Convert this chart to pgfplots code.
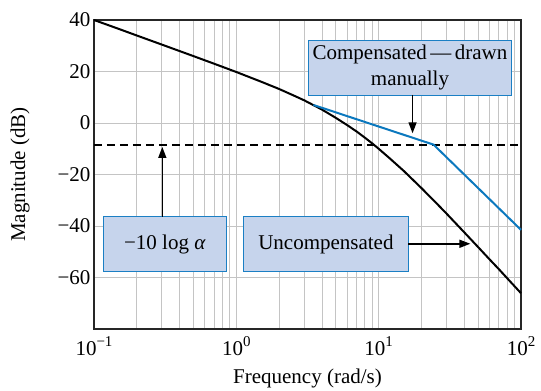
\documentclass[border=0pt]{standalone}
\usepackage{fontspec}
\setmainfont{Liberation Serif}
\usepackage{pgfplots}
\pgfplotsset{compat=1.18}
\usetikzlibrary{arrows.meta}
\definecolor{boxfill}{HTML}{C6D4EC}
\definecolor{boxdraw}{HTML}{1B7FC4}
\definecolor{compblue}{HTML}{0B78BE}
\definecolor{gridgray}{HTML}{C4C4C4}
\newcommand{\expo}[1]{\raisebox{0.42em}{\fontsize{15}{17}\selectfont #1}}
\begin{document}
\begin{tikzpicture}[font=\fontsize{21}{26}\selectfont]
\begin{axis}[
 scale only axis, width=427pt, height=309pt,
 xmode=log, xmin=0.1, xmax=100, ymin=-80, ymax=40,
 xtick={0.1,1,10,100},
 xticklabels={10\expo{−1},10\expo{0},10\expo{1},10\expo{2}},
 minor xtick={0.2,0.3,0.4,0.5,0.6,0.7,0.8,0.9,2,3,4,5,6,7,8,9,20,30,40,50,60,70,80,90},
 ytick={-60,-40,-20,0,20,40},
 yticklabels={−60,−40,−20,0,20,40},
 grid=both,
 major grid style={gridgray, line width=0.9pt},
 minor grid style={gridgray, line width=0.9pt},
 major tick length=0pt, minor tick length=0pt,
 axis line style={black!85, line width=1.1pt},
 xlabel={Frequency (rad/s)}, ylabel={Magnitude (dB)},
 tick label style={font=\fontsize{21}{24}\selectfont},
 label style={font=\fontsize{21}{24}\selectfont},
 xticklabel style={yshift=-4pt},
 xlabel style={at={(axis description cs:0.5,-0.159)}, anchor=center},
 ylabel style={at={(axis description cs:-0.173,0.5)}, anchor=center},
 clip=false,
]
\coordinate (SW) at (rel axis cs:0,0);
\coordinate (NE) at (rel axis cs:1,1);
\addplot[black, line width=1.8pt, dash pattern=on 8pt off 5pt] coordinates {(0.1,-8.5) (100,-8.5)};
\addplot[black, line width=2pt] coordinates {
(0.1,40.0) (0.15,36.5) (0.2,33.97) (0.3,30.44) (0.5,25.97) (0.7,23.0) (1,19.8) (1.5,16.0) (2,13.2) (2.5,10.8) (3,8.8) (4,5.2) (5,2.0) (6,-0.8) (7,-3.3) (8,-5.7) (9,-7.9) (10,-10.0) (12,-13.8) (15,-18.6) (20,-25.3) (25,-30.7) (30,-35.2) (40,-42.5) (50,-48.2) (60,-52.9) (70,-56.8) (80,-60.3) (100,-66.1)};
\addplot[compblue, line width=2pt] coordinates {(3.48,7.0) (24.3,-8.4) (100,-41.5)};
\node[draw=boxdraw, fill=boxfill, line width=1pt, minimum width=203pt, minimum height=55pt, align=center, inner sep=0pt] at (axis cs:16.6,21.5) {Compensated\,—\,drawn\\manually};
\node[draw=boxdraw, fill=boxfill, line width=1pt, minimum width=123pt, minimum height=55pt, inner sep=0pt] at (axis cs:0.315,-47.1) {−10 log \textit{α}};
\node[draw=boxdraw, fill=boxfill, line width=1pt, minimum width=165pt, minimum height=55pt, inner sep=0pt] at (axis cs:4.26,-47.1) {Uncompensated};
\draw[black, line width=1.5pt, -{Triangle[length=11pt,width=8pt]}] (axis cs:17.3,10.9) -- (axis cs:17.3,-4.0);
\draw[black, line width=1.5pt, -{Triangle[length=11pt,width=8pt]}] (axis cs:0.302,-36.4) -- (axis cs:0.302,-9.3);
\draw[black, line width=1.5pt, -{Triangle[length=11pt,width=8pt]}] (axis cs:16.2,-46.9) -- (axis cs:44.1,-46.9);
\end{axis}
\pgfresetboundingbox
\path[use as bounding box] ([xshift=-94pt,yshift=-61pt]SW) rectangle ([xshift=20pt,yshift=20pt]NE);
\end{tikzpicture}
\end{document}
